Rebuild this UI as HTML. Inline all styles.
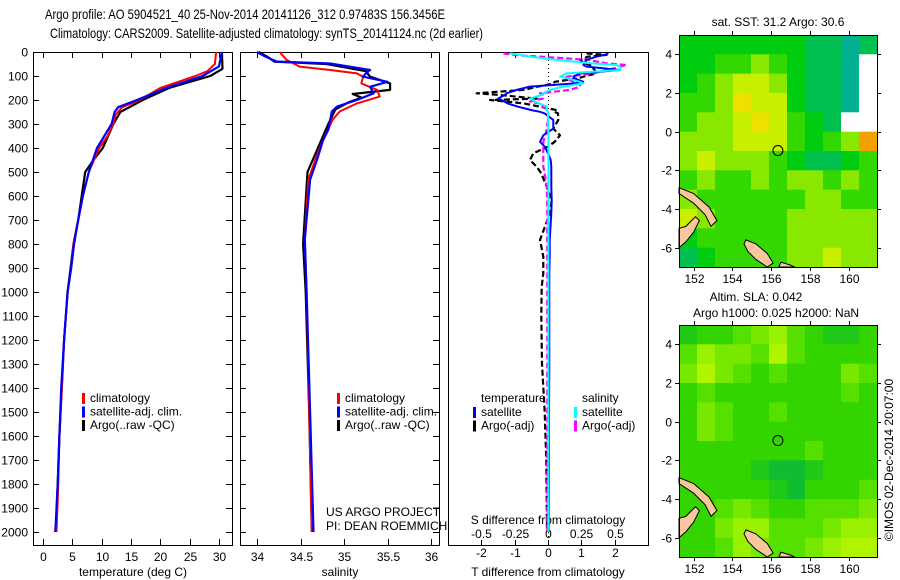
<!DOCTYPE html>
<html><head><meta charset="utf-8"><style>
html,body{margin:0;padding:0;background:#fff;}
svg{display:block;font-family:"Liberation Sans",sans-serif;}
</style></head><body>
<svg id="c" width="900" height="580" viewBox="0 0 900 580" xmlns="http://www.w3.org/2000/svg">
<text x="45" y="19" font-size="14" textLength="400" lengthAdjust="spacingAndGlyphs">Argo profile: AO 5904521_40 25-Nov-2014 20141126_312 0.97483S 156.3456E</text>
<text x="50" y="38" font-size="14" textLength="433" lengthAdjust="spacingAndGlyphs">Climatology: CARS2009. Satellite-adjusted climatology: synTS_20141124.nc (2d earlier)</text>
<g id="g"></g>
</svg>
<script>
// ---------- data ----------
const tDepthRed=[0,50,80,100,150,200,230,260,300,350,400,500,600,700,800,900,1000,1200,1400,1600,1800,2000];
const tRed=[29.5,29.3,28,26,20,16.5,13.5,12.4,12,11,9.6,7.8,6.8,6,5.2,4.8,4.2,3.6,3.2,2.8,2.6,2.3];
const tDepthBlue=[0,60,100,150,200,230,250,300,400,500,600,700,800,900,1000,1200,1400,1600,1800,2000];
const tBlue=[30.5,30,27.2,21,16,12.8,12.2,11.7,9.2,7.8,6.8,6,5.3,4.8,4.2,3.6,3.1,2.8,2.5,2.1];
const tDepthArgo=[0,70,100,150,200,250,300,400,450,500,600,700,800,900,1000,1200,1400,1600,1800,2000];
const tArgo=[30.5,30.6,28.5,21.5,17,13.2,12,10.2,8.6,7.2,6.6,6,5.2,4.7,4.2,3.6,3.2,2.8,2.5,2.2];

const sDepthRed=[0,33,61,75,89,103,131,158,186,214,248,282,365,449,532,782,1000,1500,2000];
const sRed=[34.26,34.34,34.49,34.84,35.15,35.22,35.2,35.38,35.41,35.15,34.95,34.87,34.76,34.67,34.59,34.55,34.57,34.6,34.63];
const sDepthBlue=[0,20,40,48,75,89,103,124,145,172,200,227,248,324,367,449,532,782,1000,1500,2000];
const sBlue=[34.0,34.1,34.23,34.84,35.3,35.25,35.22,35.5,35.3,35.34,35.15,34.92,34.86,34.82,34.76,34.69,34.61,34.55,34.57,34.61,34.65];
const sDepthArgo=[0,20,40,50,80,103,131,158,175,190,210,240,300,400,500,800,1000,1500,2000];
const sArgo=[34.02,34.12,34.2,34.8,35.25,35.3,35.53,35.53,35.1,35.2,35.05,34.9,34.82,34.7,34.58,34.53,34.56,34.6,34.63];

const dDepth=[6,12,19,33,47,54,61,75,89,103,110,124,131,144,158,172,179,194,200,207,215,228,242,249,256,283,319,347,374,394,422,450,478,506,561,617,672,783,853,922,978,1100,1300,1500,1700,2000];
const dTSat=[1.81,1.7,1.46,1.16,1.1,1.06,1.16,2.16,0.96,0.76,0.8,1.06,0.8,-0.54,-0.94,-1.24,-1.3,-1.5,-1.4,-1.3,-1.2,-0.9,-0.5,-0.24,-0.1,0.16,0.16,-0.14,-0.24,-0.1,0,0.08,0.1,0.1,0.1,0.11,0.1,0.05,0.05,0.04,0.04,0.04,0.04,0.03,0.03,0.02];
const dTArgo=[1.16,1.76,1.2,0.96,1.1,1.26,1.3,1.4,1.46,1.06,0.9,0.2,0.16,-0.3,-0.74,-2.14,-1.44,-0.34,-1.74,-1.2,-0.7,-0.24,0.26,0.2,0.3,0.31,0.16,0.36,0.2,0,-0.44,-0.54,-0.34,-0.2,-0.04,0.11,0.06,-0.24,-0.14,-0.14,-0.19,-0.2,-0.18,-0.1,-0.05,-0.03];
const dSSat=[-0.285,-0.2,-0.135,0.065,0.315,0.515,0.54,0.54,0.14,0.09,0.15,0.24,0.265,0.115,0.015,-0.035,-0.05,-0.135,-0.11,-0.1,-0.06,-0.01,-0.01,0,0,0,0.003,0.003,0.003,0.003,0.003,0.003,0.003,0.003,0.003,0.003,0.003,0.003,0.003,0.003,0.003,0.003,0.003,0.003,0.003,0.003];
const dSArgo=[-0.335,-0.25,-0.06,0.3,0.44,0.59,0.54,0.45,0.34,0.14,0.14,0.19,0.24,0.24,0.165,-0.06,-0.035,-0.035,-0.1,-0.135,-0.06,-0.04,0,0,0,0,-0.01,-0.02,-0.035,-0.035,-0.035,-0.035,-0.035,-0.025,-0.01,-0.006,-0.005,-0.005,-0.005,-0.005,-0.005,-0.005,-0.005,-0.005,-0.005,-0.005];

const depthTicks=[0,100,200,300,400,500,600,700,800,900,1000,1100,1200,1300,1400,1500,1600,1700,1800,1900,2000];
const tempTicks=[0,5,10,15,20,25,30];
const salTicks=[34,34.5,35,35.5,36];
const salTickLabels=["34","34.5","35","35.5","36"];
const tdTicks=[-2,-1,0,1,2];
const sdTicks=[-0.5,-0.25,0,0.25,0.5];
const sdTickLabels=["-0.5","-0.25","0","0.25","0.5"];
const lonTicks=[152,154,156,158,160];
const latTicks=[4,2,0,-2,-4,-6];

const sstGrid=[
[29.7,29.7,29.8,29.7,29.8,29.8,29.7,29.6,29.5,29.4,29.5],
[29.7,29.8,29.9,30.0,30.1,30.0,29.8,29.6,29.5,29.4,null],
[29.8,29.9,30.1,30.3,30.3,30.1,29.8,29.5,29.5,29.2,null],
[29.9,30.0,30.2,30.5,30.4,30.3,29.8,29.6,29.5,29.4,null],
[30.0,30.1,30.2,30.4,30.5,30.4,29.9,29.7,29.6,null,null],
[30.1,30.2,30.2,30.3,30.4,30.3,29.9,29.8,30.0,30.2,30.8],
[30.1,30.3,30.1,30.1,30.2,29.9,29.7,29.5,29.6,29.8,30.0],
[30.0,30.1,30.0,30.0,30.1,30.0,30.1,30.1,30.0,30.1,30.0],
[30.2,30.0,29.9,29.9,29.9,30.0,30.0,30.1,30.1,30.0,30.0],
[30.3,30.2,30.0,29.9,29.9,30.0,30.1,30.2,30.1,30.1,30.1],
[29.8,29.9,29.9,29.9,29.9,30.0,30.1,30.2,30.1,30.1,30.2],
[29.6,29.7,29.9,29.9,30.0,30.0,30.1,30.2,30.3,30.1,30.2]];
const slaGrid=[
[0.02,0.03,0.04,0.05,0.06,0.07,0.05,0.03,0.02,0.02,0.03],
[0.05,0.07,0.06,0.06,0.05,0.08,0.05,0.04,0.03,0.04,0.04],
[0.06,0.08,0.06,0.05,0.04,0.05,0.04,0.04,0.04,0.06,0.05],
[0.04,0.05,0.04,0.03,0.03,0.04,0.03,0.03,0.04,0.05,0.04],
[0.04,0.06,0.05,0.03,0.03,0.05,0.03,0.03,0.03,0.04,0.04],
[0.04,0.06,0.05,0.03,0.03,0.04,0.03,0.04,0.04,0.04,0.04],
[0.03,0.04,0.04,0.03,0.03,0.03,0.03,0.05,0.04,0.03,0.03],
[0.04,0.04,0.03,0.03,0.02,0.01,0.01,0.02,0.03,0.04,0.04],
[0.04,0.04,0.03,0.03,0.03,0.02,0.01,0.03,0.04,0.04,0.05],
[0.03,0.04,0.05,0.06,0.05,0.04,0.04,0.05,0.05,0.05,0.06],
[0.03,0.04,0.06,0.07,0.07,0.05,0.05,0.05,0.06,0.07,0.07],
[0.03,0.04,0.05,0.07,0.06,0.05,0.05,0.06,0.07,0.08,0.08]];
const argoLon=156.3456, argoLat=-0.97483;

// ---------- helpers ----------
const NS="http://www.w3.org/2000/svg";
const G=document.getElementById('g');
function el(tag,attrs,parent){const e=document.createElementNS(NS,tag);for(const k in attrs)e.setAttribute(k,attrs[k]);(parent||G).appendChild(e);return e;}
function txt(x,y,s,size,anchor,name,parent){const t=el('text',{x:x,y:y,'font-size':size,'text-anchor':anchor||'start'},parent);t.textContent=s;


return t;}
const Y0=52, YB=545;
const yD=d=>Y0+d*0.24;
const xT=v=>43+v*(176/30);
const xS=v=>257+(v-34)*87;
const xTD=v=>548+v*33.3;
const xSD=v=>548+v*133.2;

function frame(x0,x1,name){const r=el('rect',{x:x0+0.5,y:Y0+0.5,width:x1-x0,height:YB-Y0,fill:'none',stroke:'#000','stroke-width':1});

}
function line(xs,ds,fx,color,w,dash,name){const pts=xs.map((v,i)=>fx(v).toFixed(1)+','+yD(ds[i]).toFixed(1)).join(' ');
const p=el('polyline',{points:pts,fill:'none',stroke:color,'stroke-width':w,'stroke-dasharray':dash||'none','stroke-linejoin':'round'});

}
function tick(x1,y1,x2,y2){el('line',{x1:x1,y1:y1,x2:x2,y2:y2,stroke:'#000','stroke-width':1});}

// ---------- panel 1 ----------
frame(33,232,'temperature-panel-frame');
depthTicks.forEach(d=>{const y=Math.round(yD(d))+0.5;tick(33,y,39,y);tick(226,y,232,y);tick(240,y,246,y);tick(433,y,439,y);
txt(28,y+4,String(d),12,'end','depth-tick-label');});
tempTicks.forEach(v=>{const x=Math.round(xT(v))+0.5;tick(x,Y0,x,Y0+6);tick(x,YB,x,YB-6);txt(x,561,String(v),12,'middle','temperature-tick-label');});
txt(133,576,'temperature (deg C)',12,'middle','temperature-axis-title');
line(tArgo,tDepthArgo,xT,'#000',2.2,'','temperature-argo-line');
line(tRed,tDepthRed,xT,'#f00',2,'','temperature-climatology-line');
line(tBlue,tDepthBlue,xT,'#00f',2.2,'','temperature-satellite-line');
function legend(x,y,items,prefix){items.forEach((it,i)=>{const r=el('rect',{x:x,y:y+i*13.5-9,width:3,height:11,fill:it[0]});


txt(x+8,y+i*13.5,it[1],12,'start',prefix+'-label');});}
legend(82,402,[['#f00','climatology'],['#00f','satellite-adj. clim.'],['#000','Argo(..raw -QC)']],'temperature-legend');

// ---------- panel 2 ----------
frame(240,439,'salinity-panel-frame');
salTicks.forEach((v,i)=>{const x=Math.round(xS(v))+0.5;tick(x,Y0,x,Y0+6);tick(x,YB,x,YB-6);txt(x,561,salTickLabels[i],12,'middle','salinity-tick-label');});
txt(340,576,'salinity',12,'middle','salinity-axis-title');
line(sArgo,sDepthArgo,xS,'#000',2.2,'','salinity-argo-line');
line(sRed,sDepthRed,xS,'#f00',2,'','salinity-climatology-line');
line(sBlue,sDepthBlue,xS,'#00f',2.2,'','salinity-satellite-line');
legend(337,402,[['#f00','climatology'],['#00f','satellite-adj. clim.'],['#000','Argo(..raw -QC)']],'salinity-legend');
txt(326,516,'US ARGO PROJECT',12,'start','project-credit');
txt(326,530,'PI: DEAN ROEMMICH',12,'start','pi-credit');

// ---------- panel 3 ----------
frame(448,648,'difference-panel-frame');
el('line',{x1:548.5,y1:Y0,x2:548.5,y2:YB,stroke:'#000','stroke-width':1,'stroke-dasharray':'1,3'});
tdTicks.forEach(v=>{const x=Math.round(xTD(v))+0.5;tick(x,YB,x,YB-5);txt(x,557,String(v),12,'middle','t-difference-tick-label');});
sdTicks.forEach((v,i)=>{const x=Math.round(xSD(v))+0.5;tick(x,Y0,x,Y0+6);txt(x,538,sdTickLabels[i],12,'middle','s-difference-tick-label');});
txt(548,524,'S difference from climatology',12,'middle','s-difference-axis-title');
txt(548,576,'T difference from climatology',12,'middle','t-difference-axis-title');
line(dTArgo,dDepth,xTD,'#000',2.2,'6,3','t-difference-argo-line');
line(dSArgo,dDepth,xSD,'#f0f',2.2,'6,3','s-difference-argo-line');
line(dTSat,dDepth,xTD,'#00f',2,'','t-difference-satellite-line');
line(dSSat,dDepth,xSD,'#0ff',2,'','s-difference-satellite-line');
txt(481,402,'temperature',12,'start','difference-legend-temperature-header');
txt(582,402,'salinity',12,'start','difference-legend-salinity-header');
legend(473,416,[['#00f','satellite'],['#000','Argo(-adj)']],'difference-legend-temperature');
legend(574,416,[['#0ff','satellite'],['#f0f','Argo(-adj)']],'difference-legend-salinity');

// ---------- maps ----------
const LON0=151.25, LON1=161.45, LAT0=-7, LAT1=5;
function sstColor(v){if(v===null)return '#fff';
const s=[[29.2,'#00b090'],[29.5,'#00c050'],[29.7,'#00cc10'],[29.9,'#33d800'],[30.1,'#88e800'],[30.3,'#c8ee00'],[30.5,'#eee000'],[30.8,'#f0a000']];
let c=s[0][1];for(const p of s){if(v>=p[0]-0.05)c=p[1];}return c;}
function slaColor(v){const s=[[0.0,'#10bc30'],[0.02,'#20c818'],[0.03,'#33d400'],[0.05,'#55e000'],[0.06,'#77e800'],[0.07,'#99f000'],[0.08,'#b0f400']];
let c=s[0][1];for(const p of s){if(v>=p[0]-0.001)c=p[1];}return c;}
function map(x0,y0,x1,y1,grid,colorFn,name){
  const g=el('g',{});
  
  
  const fx=lon=>x0+(lon-LON0)/(LON1-LON0)*(x1-x0);
  const fy=lat=>y0+(LAT1-lat)/(LAT1-LAT0)*(y1-y0);
  const nr=grid.length,nc=grid[0].length;
  grid.forEach((row,r)=>row.forEach((v,c)=>{
    const lo=LON0+c*(LON1-LON0)/nc, la=LAT1-r*(LAT1-LAT0)/nr;
    const cx=fx(lo), cy=fy(la), w=fx(LON0+(c+1)*(LON1-LON0)/nc)-cx, h=fy(LAT1-(r+1)*(LAT1-LAT0)/nr)-cy;
    const rc=el('rect',{x:cx.toFixed(1),y:cy.toFixed(1),width:(w+0.6).toFixed(1),height:(h+0.6).toFixed(1),fill:colorFn(v)},g);
    
    
  }));
  const lands=[[[151.25,-2.9],[152,-3.2],[152.8,-3.9],[153.2,-4.6],[152.9,-4.9],[152.6,-4.3],[152,-3.7],[151.25,-3.2]],
    [[151.25,-5.0],[151.6,-4.9],[152.1,-4.4],[152.3,-4.6],[152.0,-5.2],[151.6,-5.7],[151.25,-6.0]],
    [[154.7,-5.6],[155.2,-5.8],[155.8,-6.3],[156.1,-6.8],[155.8,-7],[155.2,-6.6],[154.8,-6.2],[154.6,-5.8]],
    [[156.5,-6.75],[157,-6.9],[157.2,-7],[156.4,-7]]];
  lands.forEach(pts=>{const p=el('polygon',{points:pts.map(q=>fx(q[0]).toFixed(1)+','+fy(q[1]).toFixed(1)).join(' '),fill:'#f8c89c',stroke:'#000','stroke-width':1},g);
    
    });
  const ci=el('circle',{cx:fx(argoLon),cy:fy(argoLat),r:5,fill:'none',stroke:'#000','stroke-width':1},g);
  
  
  const fr=el('rect',{x:x0+0.5,y:y0+0.5,width:x1-x0,height:y1-y0,fill:'none',stroke:'#000','stroke-width':1},g);
  
  
  lonTicks.forEach(l=>{const x=Math.round(fx(l))+0.5;tick(x,y0,x,y0-4);tick(x,y1,x,y1+4);txt(x,y1+16,String(l),12,'middle','longitude-tick-label');});
  latTicks.forEach(l=>{const y=Math.round(fy(l))+0.5;tick(x0,y,x0-4,y);tick(x1,y,x1+4,y);txt(x0-7,y+4,String(l),12,'end','latitude-tick-label');});
}
map(679,35,877,267,sstGrid,sstColor,'sst-map');
map(679,325,877,557,slaGrid,slaColor,'sla-map');
txt(778,26,'sat. SST: 31.2 Argo: 30.6',12,'middle','sst-map-title');
txt(756,301,'Altim. SLA: 0.042',12,'middle','sla-map-title');
txt(776,317,'Argo h1000: 0.025 h2000: NaN',12,'middle','sla-map-subtitle');
const cp=txt(0,0,'©IMOS 02-Dec-2014 20:07:00',12,'middle','copyright-text');
cp.setAttribute('transform','translate(893,460) rotate(-90)');
</script>
</body></html>
